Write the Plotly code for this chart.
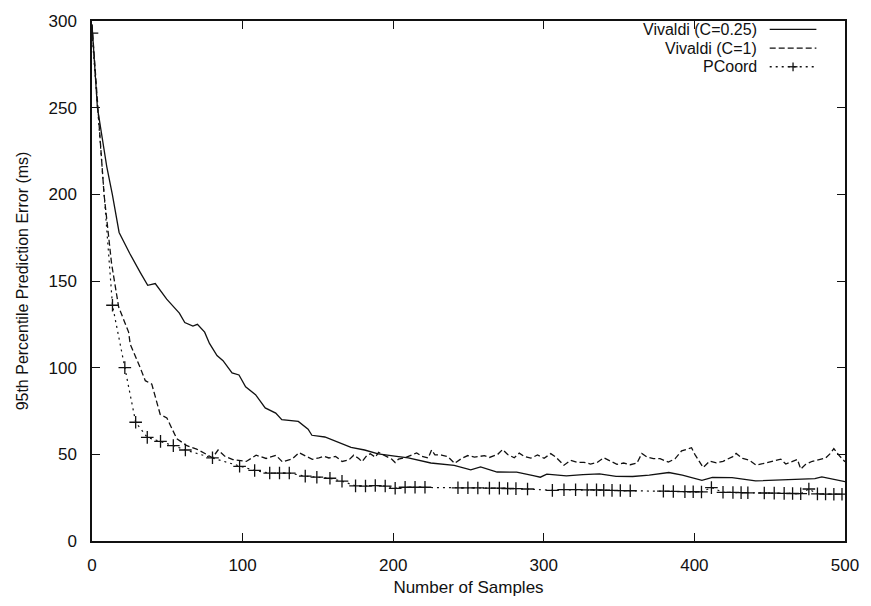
import plotly.graph_objects as go

# ---- data ----
x_c025 = [0, 3.6, 9.8, 13.5, 18, 25, 32, 37, 42, 49.6,
          58, 61.6, 67, 70, 74.8, 78, 83, 87, 93, 97.6,
          102, 108.6, 115, 122, 126, 137, 143.5, 146, 154.6, 159,
          166, 172, 181, 190, 201, 210, 225, 240.5, 251.5, 258,
          269, 282, 293, 297.7, 302, 315, 326, 337, 348, 359,
          370, 377, 383, 392, 405, 412, 425, 440.6, 462.6, 480,
          484.6, 500]
y_c025 = [298, 250, 216, 200, 178, 166, 155, 147.5, 148.5, 139.5,
          131.5, 126, 124, 125, 120.5, 114, 107, 104, 97, 95.8,
          89, 84.4, 76.8, 73.8, 70, 69, 64.5, 61, 60, 58.5,
          56, 54, 52.5, 50.3, 49, 47.9, 45, 43.6, 41, 42.7,
          39.8, 39.7, 37.7, 36.8, 38.6, 37.6, 38.3, 38.7, 37.3, 37.2,
          38, 38.8, 39.5, 38, 35, 36.7, 36.6, 34.7, 35.3, 36,
          37, 34.3]

x_c1 = [0, 4, 8, 13, 17.7, 24.3, 25.4, 32, 35.4, 39.7,
        43, 45.3, 49.7, 53, 56.3, 63, 69.5, 76, 80, 83.7,
        88, 93.5, 102.4, 109, 115.6, 122.2, 126.5, 133.1, 137.5, 141.9,
        146.3, 150.7, 154, 157.3, 161.7, 166.1, 170.5, 173.8, 177.1, 179.3,
        182.6, 184.8, 188.1, 190.3, 194.7, 199.1, 201.3, 203.5, 207.9, 212.3,
        215.6, 218.9, 223.3, 225.5, 227.7, 232.1, 236.4, 240.8, 245.2, 249.6,
        254, 260.6, 263.9, 269.4, 272.7, 276, 280.4, 283.7, 287, 291.4,
        295.8, 300.2, 304.6, 307.9, 313.4, 317.8, 322.2, 326.6, 331, 335.4,
        339.8, 344.2, 348.6, 353, 357.4, 361.8, 365.1, 368.4, 372.8, 377.2,
        382.7, 387.1, 391.5, 394.8, 398.1, 400.3, 403.6, 405.8, 410.2, 414.6,
        419, 425.5, 427.7, 432.1, 436.5, 440.9, 445.3, 449.7, 454.1, 457.4,
        460.7, 465.1, 468.4, 470.6, 473.9, 478.3, 482.7, 487.1, 490.4, 492.6,
        495.9, 500]
y_c1 = [298, 250, 200, 160, 135, 120.5, 113.5, 100, 92.5, 90.5,
        79.5, 73, 71, 64.5, 59, 55, 53, 50, 48, 52.5,
        49, 47, 45.9, 49.5, 47.6, 49.4, 45.6, 47.4, 51, 49,
        47.1, 48, 48.9, 47.9, 48.8, 45.9, 46.7, 49.5, 47.6, 45.7,
        49.4, 50.3, 48.4, 51.1, 49.2, 47.2, 45.3, 47.2, 48.1, 49.9,
        50.8, 48.9, 47.9, 52.5, 49.7, 49.6, 48.6, 44.8, 47.5, 49.3,
        48.4, 49.2, 48.2, 50, 52.8, 49.9, 48, 50.7, 48.8, 47.8,
        49.6, 47.7, 50.4, 48.5, 43.7, 46.5, 45.4, 45.4, 44.4, 45.3,
        48, 46.1, 44.2, 45, 44, 44.9, 50.5, 48.5, 47.5, 47.5,
        45.5, 47.4, 52, 52.9, 53.8, 50, 45.2, 42.4, 46.1, 45.1,
        46, 48.7, 50.5, 47.6, 46.6, 43.8, 44.6, 45.5, 46.3, 47.2,
        44.4, 46.2, 47.1, 41.5, 44.2, 46, 46.9, 47.8, 50.6, 53.3,
        49.5, 45.7]

x_pc = [0, 13.6, 21.8, 29, 36.7, 45.5, 54, 62, 80, 98,
        108, 118, 124.5, 131, 141.6, 149.3, 158, 166, 175, 181.6,
        188.1, 194.7, 201.3, 207.9, 214.5, 221.1, 243, 249.6, 256.2, 263.9,
        270.5, 276, 281.5, 289.2, 305.7, 313.4, 321.1, 328.8, 335, 339.8,
        345.3, 350.8, 357.4, 379.4, 386, 393.7, 399.2, 404.7, 411.3, 419,
        425.6, 431, 435.5, 446.4, 453, 459.6, 465.2, 470.6, 476, 481.7,
        487.1, 492.6, 498]
y_pc = [293, 136, 100, 68.5, 59.8, 57.5, 55, 52.5, 48, 43.1,
        40.7, 39.2, 39.2, 39.2, 37.4, 36.8, 36.2, 34.5, 31.8, 31.7,
        32, 31.7, 30.4, 31, 31, 31, 30.7, 30.7, 30.6, 30.5,
        30.5, 30.3, 30.2, 30, 29.2, 29.6, 29.6, 29.5, 29.5, 29.3,
        29.2, 29.1, 29, 28.8, 28.6, 28.5, 28.4, 28.3, 30.8, 28.1,
        28, 27.9, 27.8, 27.7, 27.6, 27.5, 27.4, 27.3, 30, 27.2,
        27.1, 27, 27]

series_names = ["Vivaldi (C=0.25)", "Vivaldi (C=1)", "PCoord"]
x_ticks = [0, 100, 200, 300, 400, 500]
y_ticks = [0, 50, 100, 150, 200, 250, 300]

FONT = "Liberation Sans, Arial, Helvetica, sans-serif"
INK = "#111111"

fig = go.Figure()
fig.add_trace(go.Scatter(x=x_c025, y=y_c025, mode="lines", name=series_names[0],
                         line=dict(color=INK, width=1.3), showlegend=False))
fig.add_trace(go.Scatter(x=x_c1, y=y_c1, mode="lines", name=series_names[1],
                         line=dict(color=INK, width=1.3, dash="6px,3px"), showlegend=False))
fig.add_trace(go.Scatter(x=x_pc, y=y_pc, mode="lines+markers", name=series_names[2],
                         line=dict(color=INK, width=1.2, dash="2px,4px"),
                         marker=dict(symbol="cross-thin", size=9,
                                     line=dict(width=1.3, color=INK)),
                         showlegend=False))

# gnuplot-style key: right-aligned text followed by a line sample
rows_y = [0.984, 0.948, 0.912]
dashes = ["solid", "6px,3px", "2px,4px"]
x_text = 0.884
x0s, x1s = 0.900, 0.962
for name, ry, d in zip(series_names, rows_y, dashes):
    fig.add_annotation(x=x_text, y=ry, xref="paper", yref="paper", text=name,
                       showarrow=False, xanchor="right", yanchor="middle",
                       borderpad=0,
                       font=dict(family=FONT, size=16, color=INK))
    fig.add_shape(type="line", xref="paper", yref="paper", x0=x0s, x1=x1s, y0=ry, y1=ry,
                  line=dict(color=INK, width=1.3, dash=d))
# "+" point in the PCoord sample
xc = (x0s + x1s) / 2
fig.add_shape(type="line", xref="paper", yref="paper", x0=xc - 0.0059, x1=xc + 0.0059,
              y0=rows_y[2], y1=rows_y[2], line=dict(color=INK, width=1.3))
fig.add_shape(type="line", xref="paper", yref="paper", x0=xc, x1=xc,
              y0=rows_y[2] - 0.0084, y1=rows_y[2] + 0.0084, line=dict(color=INK, width=1.3))

axis_common = dict(showline=True, linecolor=INK, linewidth=1.5, mirror="ticks",
                   ticks="inside", ticklen=8, tickwidth=1.2, tickcolor=INK,
                   showgrid=False, zeroline=False,
                   tickfont=dict(family=FONT, size=17, color=INK))

fig.update_layout(
    width=871, height=606,
    margin=dict(l=92, r=20, t=17, b=56),
    paper_bgcolor="white", plot_bgcolor="white",
    font=dict(family=FONT, size=17, color=INK),
    xaxis=dict(range=[0, 500], tickvals=x_ticks, ticklabelstandoff=8,
               title=dict(text="Number of Samples", font=dict(family=FONT, size=17, color=INK),
                          standoff=7),
               **axis_common),
    yaxis=dict(range=[0, 300], tickvals=y_ticks, ticklabelstandoff=10,
               title=dict(text="95th Percentile Prediction Error (ms)",
                          font=dict(family=FONT, size=16, color=INK), standoff=16),
               **axis_common),
)

fig.write_html("out.html")
